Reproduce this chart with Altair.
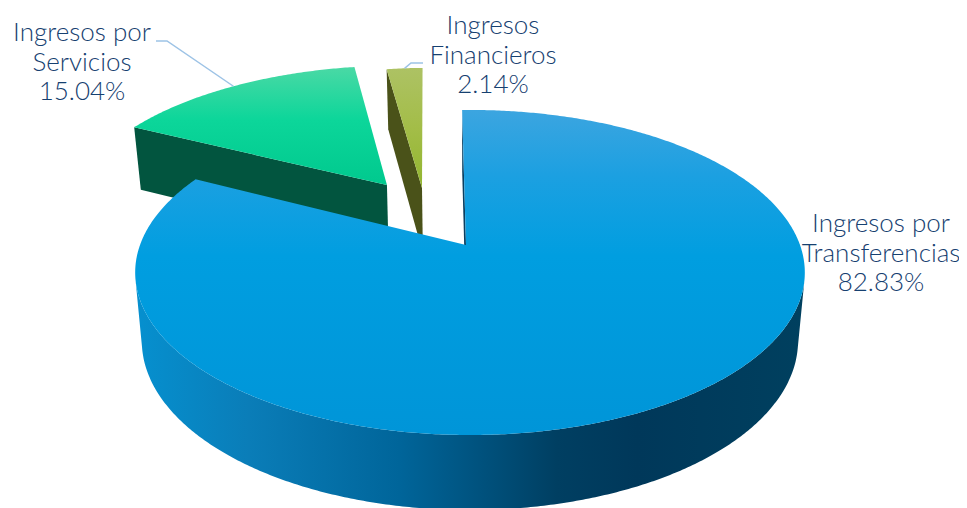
import math
import altair as alt
import pandas as pd

# ---- chart values -------------------------------------------------------
categories = ["Ingresos por Transferencias", "Ingresos por Servicios", "Ingresos Financieros"]
shares = [82.83, 15.04, 2.14]
share_labels = ["82.83%", "15.04%", "2.14%"]
label_lines = ["Ingresos por\nTransferencias\n82.83%", "Ingresos por\nServicios\n15.04%", "Ingresos\nFinancieros\n2.14%"]

# ---- view of the 3D pie (perspective camera over a unit disc) -----------
X0, Y0, AX, BY, P = 466.0, 245.0, 330.0, 157.9, 0.169
ROTATION = -1.6
explode = [(0.0, 0.0), (-0.256, -0.406), (-0.142, -0.3845)]
rim_dx = [4.0, 0.0, 2.0]
SHRINK, SHRINK_X = 0.98, 466.0
W, H = 951, 500


def project(u, v):
    w = 1 - P * v
    return X0 + AX * u / w, Y0 + BY * v / w


def lower(pt):
    x, y = pt
    depth = 60 + (y - 68) * 15 / 367
    return SHRINK_X + (x - SHRINK_X) * SHRINK, y + depth


def rim(i, deg):
    a = math.radians(deg)
    x, y = project(explode[i][0] + math.sin(a), explode[i][1] - math.cos(a))
    return x + rim_dx[i], y


def arc(i, a0, a1):
    n = max(2, int(abs(a1 - a0) * 2))
    return [rim(i, a0 + (a1 - a0) * k / n) for k in range(n + 1)]


total = sum(shares)
angles = []
cur = ROTATION
for s in shares:
    angles.append((cur, cur + 360 * s / total))
    cur += 360 * s / total

apex = [project(*e) for e in explode]
x_scale = alt.Scale(domain=[8, 8 + W], range=[0, W], nice=False, zero=False)
y_scale = alt.Scale(domain=[8, 8 + H], range=[0, H], nice=False, zero=False)


def stops(pairs):
    return [alt.GradientStop(offset=o, color=c) for o, c in pairs]


def vgrad(pairs):
    return alt.Gradient(gradient="linear", stops=stops(pairs), x1=0, x2=0, y1=0, y2=1)


def hgrad(pairs):
    return alt.Gradient(gradient="linear", stops=stops(pairs), x1=0, x2=1, y1=0, y2=0)


def shape(points, fill):
    pts = list(points) + [points[0]]
    df = pd.DataFrame({"x": [p[0] for p in pts], "y": [p[1] for p in pts], "i": range(len(pts))})
    return alt.Chart(df).mark_line(fill=fill, stroke=None, strokeWidth=0, clip=True, interpolate="linear").encode(
        x=alt.X("x:Q", scale=x_scale, axis=None),
        y=alt.Y("y:Q", scale=y_scale, axis=None),
        order=alt.Order("i:Q"),
    )


def wedge(i):
    return [apex[i]] + arc(i, *angles[i])


def edge_wall(i, deg):
    r = rim(i, deg)
    return [r, apex[i], lower(apex[i]), lower(r)]


def leader(points):
    df = pd.DataFrame({"x": [p[0] for p in points], "y": [p[1] for p in points], "i": range(len(points))})
    return alt.Chart(df).mark_line(color="#9dc3e6", strokeWidth=1.5, clip=True).encode(
        x=alt.X("x:Q", scale=x_scale, axis=None),
        y=alt.Y("y:Q", scale=y_scale, axis=None),
        order=alt.Order("i:Q"),
    )


def label(i, cx, top):
    return alt.Chart(pd.DataFrame({"t": [label_lines[i]]})).mark_text(
        font="Lato", fontSize=26, fontWeight=300, lineBreak="\n", lineHeight=29.5, align="center", baseline="top",
        color="#164070"
    ).encode(text="t:N", x=alt.value(cx - 8), y=alt.value(top - 8))


main_arc = arc(0, *angles[0])
# the visible side of the drum runs between the two silhouette points of the rim
right_i = max(range(len(main_arc)), key=lambda k: main_arc[k][0] * 72 + main_arc[k][1] * 8)
left_i = min(range(len(main_arc)), key=lambda k: main_arc[k][0] * 72 - main_arc[k][1] * 6)
front = main_arc[right_i:left_i + 1]
main_wall = front + [lower(p) for p in reversed(front)]
mid1 = rim(1, sum(angles[1]) / 2)
mid2 = rim(2, sum(angles[2]) / 2)

layers = [
    # Financieros
    shape(edge_wall(2, angles[2][0]), "#4a5219"),
    shape(wedge(2), vgrad([(0, "#adc264"), (0.5, "#a3bd48"), (1, "#92b530")])),
    # Servicios
    shape(edge_wall(1, angles[1][0]), "#02553f"),
    shape(wedge(1), vgrad([(0, "#4ad9a5"), (0.45, "#0cd69a"), (1, "#00c98e")])),
    # Transferencias
    shape(edge_wall(0, angles[0][0]), "#0b3f60"),
    shape(main_wall, hgrad([(0, "#0690cf"), (0.17, "#0a7db8"), (0.395, "#00659a"), (0.54, "#004e78"),
                            (0.63, "#003f62"), (0.75, "#00385a"), (1, "#00405f")])),
    shape(wedge(0), vgrad([(0, "#3ca5e0"), (0.2, "#1ca0e1"), (0.45, "#009ee0"), (1, "#0095d8")])),
    # leaders and labels
    leader([(156, 41), (167, 41), mid1]),
    leader([(423, 63), (411, 63), mid2]),
    label(0, 881, 211),
    label(1, 82, 20),
    label(2, 493, 13),
]

chart = alt.layer(*layers).properties(
    width=W, height=H, padding=0, autosize=alt.AutoSizeParams(type="none"), background="white"
).configure_view(stroke=None)

chart.save("out.html", embed_options={"renderer": "svg", "actions": False})
